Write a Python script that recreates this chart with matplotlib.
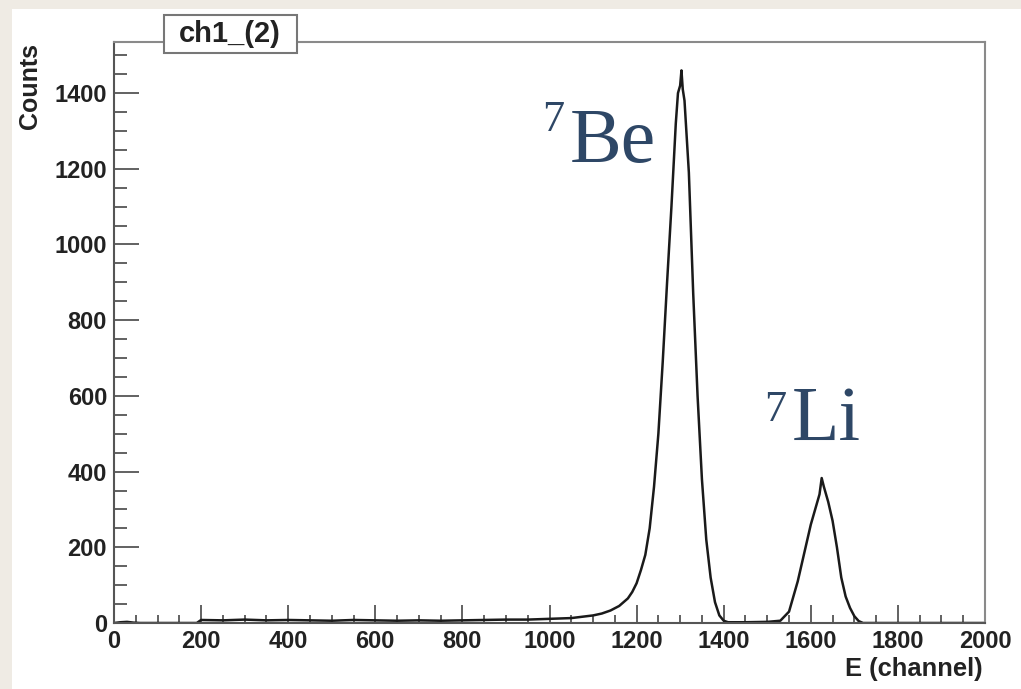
import matplotlib
matplotlib.use("Agg")
import matplotlib.pyplot as plt
from matplotlib.patches import Rectangle
from matplotlib.ticker import MultipleLocator

# Spectrum (channel, counts)
channels = [0, 15, 30, 45, 60, 190, 200, 250, 300, 350, 400, 450, 500, 550, 600,
            650, 700, 750, 800, 850, 900, 950, 1000, 1050, 1100, 1120, 1140, 1160,
            1170, 1180, 1190, 1200, 1210, 1220, 1230, 1240, 1250, 1260, 1270, 1280,
            1290, 1295, 1300, 1303, 1306, 1310, 1320, 1330, 1340, 1350, 1360, 1370,
            1380, 1390, 1400, 1410, 1450, 1500, 1530, 1550, 1560, 1570, 1580, 1590,
            1600, 1610, 1620, 1625, 1630, 1640, 1650, 1660, 1670, 1680, 1690, 1700,
            1710, 1720, 1800, 2000]
counts = [0, 2, 3, 1, 0, 0, 8, 7, 9, 7, 8, 7, 6, 8, 7,
          6, 7, 6, 7, 8, 9, 9, 11, 13, 20, 25, 33, 45,
          55, 65, 82, 105, 140, 180, 250, 360, 500, 690, 900, 1100,
          1320, 1400, 1420, 1460, 1410, 1380, 1190, 870, 600, 380, 220, 120,
          55, 20, 6, 2, 2, 3, 6, 30, 70, 110, 160, 210,
          260, 300, 340, 383, 360, 320, 270, 200, 120, 70, 40, 18,
          5, 0, 0, 0]

x_label = "E (channel)"
y_label = "Counts"
title = "ch1_(2)"

W, H = 1021, 689
fig = plt.figure(figsize=(W / 100, H / 100), dpi=100)
fig.patch.set_facecolor("#efebe4")
# white sheet behind the plot
fig.patches.append(Rectangle((12 / W, 0), 1, 1 - 9 / H, transform=fig.transFigure,
                             facecolor="white", edgecolor="none", zorder=-5))

ax = fig.add_axes([114 / W, 1 - 623 / H, (985 - 114) / W, (623 - 42) / H])
ax.set_zorder(2)
ax.set_facecolor("white")
ax.plot(channels, counts, color="#1a1a1a", linewidth=1.8)

ax.set_xlim(0, 2000)
ax.set_ylim(0, 1535)
ax.xaxis.set_major_locator(MultipleLocator(200))
ax.xaxis.set_minor_locator(MultipleLocator(50))
ax.yaxis.set_major_locator(MultipleLocator(200))
ax.yaxis.set_minor_locator(MultipleLocator(50))

font = dict(family="Liberation Sans", weight="bold")
ax.tick_params(axis="both", which="both", direction="in", color="#555555",
               width=1.3, labelsize=17, top=False, right=False)
ax.tick_params(axis="y", which="major", length=18, pad=5)
ax.tick_params(axis="y", which="minor", length=9.5)
ax.tick_params(axis="x", which="major", length=13, pad=5)
ax.tick_params(axis="x", which="minor", length=6)
for lab in ax.get_xticklabels() + ax.get_yticklabels():
    lab.set_fontfamily("Liberation Sans")
    lab.set_fontweight("bold")
    lab.set_color("#222222")

for side in ["left", "bottom"]:
    ax.spines[side].set_color("#555555")
    ax.spines[side].set_linewidth(1.5)
for side in ["top", "right"]:
    ax.spines[side].set_color("#8a8a8a")
    ax.spines[side].set_linewidth(1.5)

fig.text(30 / W, 1 - 43 / H, y_label, rotation=90, ha="center", va="top",
         fontsize=18, color="#222222", **font)
fig.text(983 / W, 1 - 669 / H, x_label, ha="right", va="center",
         fontsize=18.4, color="#222222", **font)

# title box sits on top of the frame
fig.patches.append(Rectangle((164 / W, 1 - 53 / H), 133 / W, 38 / H,
                             transform=fig.transFigure, facecolor="white",
                             edgecolor="#777777", linewidth=1.5, zorder=5))
fig.text(230 / W, 1 - 34 / H, title, ha="center", va="center", fontsize=21,
         color="#222222", zorder=6, **font)

# isotope labels
lab_color = "#2e4766"
serif = "Liberation Serif"
ax.text(984, 1381, "7", fontsize=32, color=lab_color, family=serif,
        ha="left", va="top")
ax.text(1046, 1218, "Be", fontsize=56, color=lab_color, family=serif,
        ha="left", va="baseline")
ax.text(1493, 615, "7", fontsize=32, color=lab_color, family=serif,
        ha="left", va="top")
ax.text(1557, 483, "Li", fontsize=56, color=lab_color, family=serif,
        ha="left", va="baseline")

fig.savefig("out.png", dpi=100, facecolor=fig.get_facecolor())
